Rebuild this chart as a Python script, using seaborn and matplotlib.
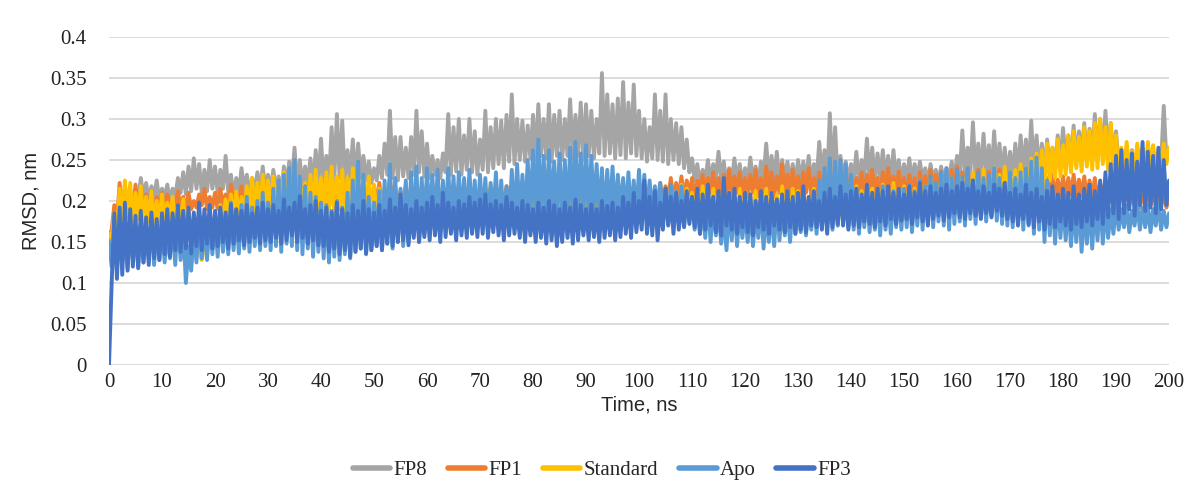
"""
RMSD of the five systems over the 200 ns run
"""
import numpy as np
import pandas as pd
import matplotlib
matplotlib.use("Agg")
import matplotlib.pyplot as plt
import seaborn as sns

# time axis (ns), one sample every 0.5 ns
time_ns = np.arange(0, 200.5, 0.5)

# RMSD, in 0.001 nm; first value is t=0, then one row per 10 ns
fp8 = [150,
       160, 180, 170, 195, 185, 205, 190, 200, 195, 215, 200, 228, 205, 222, 200, 218, 205, 225, 200, 215,
       205, 220, 200, 215, 205, 228, 210, 235, 208, 242, 212, 252, 215, 245, 210, 238, 212, 250, 215, 242,
       210, 238, 215, 255, 210, 232, 205, 228, 210, 240, 212, 232, 208, 228, 212, 235, 210, 242, 215, 232,
       212, 238, 215, 230, 210, 242, 218, 248, 222, 265, 215, 250, 218, 242, 220, 252, 215, 262, 220, 276,
       218, 255, 222, 290, 225, 306, 228, 298, 222, 262, 226, 275, 220, 270, 228, 255, 225, 248, 222, 240,
       225, 255, 228, 270, 232, 310, 228, 278, 225, 278, 230, 265, 228, 278, 232, 310, 235, 285, 230, 270,
       228, 255, 232, 250, 228, 258, 235, 306, 232, 290, 236, 300, 232, 280, 238, 300, 235, 285, 232, 275,
       238, 310, 235, 290, 240, 300, 245, 298, 240, 305, 248, 330, 245, 300, 250, 298, 248, 292, 252, 305,
       250, 318, 255, 300, 252, 318, 248, 305, 255, 310, 250, 300, 255, 324, 252, 305, 255, 320, 250, 318,
       255, 310, 252, 300, 258, 356, 255, 330, 258, 318, 252, 325, 256, 345, 252, 320, 258, 342, 255, 310,
       252, 300, 248, 290, 252, 330, 250, 310, 248, 330, 245, 300, 250, 295, 245, 290, 240, 275, 235, 252,
       225, 245, 220, 238, 225, 250, 222, 245, 228, 260, 225, 248, 220, 240, 225, 252, 222, 245, 220, 240,
       222, 253, 225, 242, 220, 248, 228, 270, 222, 255, 225, 260, 220, 250, 225, 248, 222, 245, 220, 250,
       225, 248, 222, 255, 220, 245, 225, 272, 228, 262, 222, 307, 225, 290, 220, 255, 225, 248, 222, 245,
       225, 260, 222, 250, 228, 276, 225, 265, 222, 258, 228, 262, 225, 255, 222, 262, 225, 250, 222, 245,
       225, 252, 222, 245, 228, 248, 225, 240, 222, 245, 225, 238, 222, 242, 225, 240, 228, 248, 225, 255,
       230, 286, 228, 265, 232, 296, 228, 270, 230, 282, 232, 268, 228, 285, 232, 270, 230, 265, 228, 260,
       232, 270, 230, 280, 235, 275, 232, 298, 235, 280, 232, 270, 235, 275, 238, 265, 240, 280, 245, 289,
       248, 280, 250, 292, 252, 285, 255, 295, 250, 288, 255, 306, 252, 300, 255, 310, 252, 295, 248, 285,
       245, 262, 242, 258, 245, 262, 240, 255, 245, 262, 242, 258, 245, 262, 240, 258, 245, 316, 250, 265]

fp1 = [155,
       165, 195, 175, 222, 185, 218, 190, 212, 182, 220, 188, 215, 185, 208, 190, 212, 186, 205, 190, 210,
       185, 208, 190, 202, 186, 212, 192, 205, 188, 210, 190, 200, 192, 208, 195, 215, 190, 205, 192, 210,
       190, 215, 194, 208, 192, 220, 190, 212, 195, 218, 192, 210, 196, 215, 194, 220, 190, 212, 196, 218,
       194, 215, 190, 220, 196, 212, 192, 218, 195, 210, 190, 215, 196, 222, 194, 212, 198, 218, 192, 215,
       195, 220, 192, 212, 198, 222, 194, 215, 196, 218, 192, 212, 198, 220, 195, 215, 192, 210, 196, 218,
       198, 222, 194, 215, 200, 228, 196, 218, 192, 212, 198, 220, 194, 215, 190, 212, 196, 218, 198, 222,
       194, 215, 198, 222, 192, 212, 196, 218, 194, 215, 198, 220, 192, 212, 196, 218, 198, 215, 194, 212,
       192, 210, 196, 215, 190, 208, 194, 212, 196, 218, 192, 212, 196, 220, 198, 215, 192, 210, 190, 205,
       188, 205, 192, 210, 186, 202, 190, 208, 185, 205, 190, 210, 188, 202, 192, 208, 190, 205, 186, 210,
       190, 212, 186, 205, 190, 210, 185, 202, 190, 208, 188, 205, 192, 210, 190, 208, 194, 212, 192, 210,
       195, 215, 198, 220, 196, 212, 200, 222, 198, 218, 202, 228, 200, 222, 205, 230, 202, 225, 206, 228,
       204, 225, 208, 232, 205, 228, 210, 235, 206, 228, 202, 232, 208, 238, 205, 230, 210, 235, 206, 228,
       205, 232, 210, 238, 206, 228, 202, 242, 208, 235, 205, 230, 210, 245, 206, 232, 208, 238, 204, 230,
       206, 235, 210, 240, 205, 228, 208, 235, 204, 230, 208, 238, 206, 232, 210, 240, 205, 235, 208, 230,
       206, 228, 210, 235, 205, 232, 208, 238, 204, 228, 206, 235, 210, 240, 205, 230, 208, 236, 204, 228,
       205, 232, 208, 228, 204, 235, 210, 230, 206, 238, 208, 232, 210, 236, 206, 228, 210, 238, 212, 242,
       208, 235, 212, 240, 206, 232, 210, 238, 208, 230, 212, 236, 206, 232, 210, 238, 208, 235, 205, 230,
       206, 232, 210, 236, 204, 228, 208, 234, 206, 230, 210, 235, 205, 228, 208, 232, 204, 226, 206, 230,
       205, 228, 208, 232, 204, 226, 206, 230, 202, 225, 205, 228, 200, 222, 204, 226, 200, 220, 198, 218,
       196, 215, 198, 212, 194, 210, 196, 214, 192, 208, 196, 212, 194, 210, 198, 212, 195, 208, 192, 205]

standard = [160,
            155, 185, 165, 215, 175, 225, 180, 222, 172, 210, 178, 218, 170, 205, 175, 212, 168, 200, 172, 208,
            170, 198, 175, 205, 168, 195, 172, 202, 170, 190, 165, 180, 150, 140, 128, 148, 135, 155, 160, 180,
            168, 195, 172, 202, 175, 208, 170, 212, 178, 205, 180, 218, 182, 228, 185, 222, 180, 232, 188, 225,
            185, 230, 182, 220, 188, 235, 180, 225, 185, 218, 182, 228, 188, 222, 180, 232, 185, 238, 188, 228,
            182, 235, 188, 242, 185, 230, 190, 238, 182, 228, 188, 240, 185, 232, 180, 225, 185, 230, 178, 220,
            175, 215, 170, 208, 175, 218, 168, 210, 172, 205, 175, 215, 170, 212, 168, 205, 172, 210, 175, 208,
            170, 212, 175, 205, 178, 215, 172, 208, 176, 218, 170, 210, 178, 205, 175, 212, 180, 208, 176, 215,
            178, 210, 182, 218, 180, 205, 176, 212, 182, 208, 178, 215, 185, 220, 180, 210, 185, 215, 182, 212,
            185, 220, 190, 212, 185, 218, 180, 208, 186, 215, 182, 220, 188, 222, 185, 218, 190, 215, 186, 210,
            180, 205, 175, 210, 178, 200, 172, 208, 176, 198, 170, 205, 175, 200, 168, 195, 172, 205, 175, 208,
            178, 210, 172, 215, 176, 205, 180, 212, 175, 208, 178, 218, 182, 212, 178, 220, 182, 215, 178, 210,
            175, 212, 170, 218, 176, 208, 172, 215, 168, 205, 175, 212, 170, 210, 165, 205, 172, 215, 168, 210,
            165, 208, 170, 212, 162, 205, 168, 215, 160, 210, 166, 208, 170, 218, 164, 210, 168, 215, 165, 212,
            170, 210, 168, 205, 172, 215, 170, 208, 175, 212, 168, 210, 172, 206, 170, 215, 175, 210, 170, 212,
            172, 218, 178, 212, 175, 220, 180, 215, 176, 212, 178, 220, 175, 215, 180, 222, 176, 215, 180, 218,
            176, 220, 180, 215, 175, 225, 182, 218, 178, 228, 180, 220, 185, 230, 180, 225, 186, 228, 182, 222,
            185, 230, 182, 225, 188, 235, 184, 228, 190, 238, 186, 230, 190, 240, 185, 232, 192, 242, 195, 235,
            198, 238, 202, 245, 205, 240, 210, 252, 215, 258, 220, 262, 218, 270, 225, 265, 228, 275, 230, 268,
            232, 280, 235, 285, 240, 278, 236, 290, 242, 285, 238, 295, 240, 300, 245, 290, 238, 295, 235, 280,
            230, 265, 235, 272, 232, 260, 238, 270, 240, 265, 235, 272, 242, 268, 238, 262, 240, 270, 245, 265]

apo = [150,
       120, 165, 115, 172, 125, 158, 118, 175, 128, 162, 120, 170, 125, 160, 130, 178, 122, 168, 128, 172,
       125, 165, 130, 178, 122, 185, 128, 170, 100, 145, 115, 160, 125, 185, 130, 175, 128, 188, 135, 178,
       132, 190, 138, 182, 135, 198, 140, 188, 136, 195, 142, 205, 138, 192, 145, 200, 140, 210, 145, 198,
       140, 215, 145, 225, 138, 232, 148, 240, 145, 250, 140, 230, 135, 218, 142, 210, 132, 205, 138, 198,
       130, 195, 125, 188, 132, 200, 128, 192, 135, 210, 130, 225, 138, 248, 142, 232, 135, 205, 140, 198,
       145, 212, 140, 225, 148, 245, 142, 228, 150, 215, 145, 225, 152, 235, 158, 242, 150, 228, 160, 240,
       165, 232, 170, 238, 162, 225, 168, 240, 172, 230, 165, 235, 175, 228, 168, 238, 172, 225, 170, 232,
       175, 228, 170, 222, 178, 235, 172, 225, 168, 218, 175, 238, 170, 245, 178, 232, 175, 250, 180, 262,
       178, 275, 182, 255, 175, 262, 185, 248, 178, 258, 182, 250, 176, 265, 180, 272, 185, 258, 180, 268,
       178, 255, 185, 245, 180, 240, 175, 238, 182, 242, 178, 232, 185, 228, 180, 235, 178, 225, 182, 238,
       180, 232, 176, 225, 182, 218, 175, 222, 180, 215, 172, 220, 178, 212, 175, 218, 170, 210, 175, 205,
       165, 200, 160, 195, 155, 205, 150, 198, 158, 190, 148, 185, 140, 195, 152, 200, 145, 192, 155, 188,
       150, 198, 145, 190, 155, 195, 142, 188, 150, 192, 145, 200, 152, 195, 158, 190, 150, 198, 160, 192,
       162, 200, 158, 195, 165, 210, 160, 225, 168, 240, 172, 252, 165, 248, 170, 250, 175, 245, 168, 232,
       165, 215, 160, 205, 168, 212, 162, 200, 165, 210, 158, 218, 165, 205, 160, 212, 168, 208, 165, 215,
       168, 220, 162, 212, 170, 225, 165, 218, 172, 230, 168, 222, 175, 235, 170, 240, 165, 228, 172, 238,
       175, 230, 170, 240, 178, 225, 172, 235, 180, 228, 175, 232, 182, 240, 176, 228, 172, 222, 170, 235,
       168, 228, 172, 235, 165, 240, 170, 248, 160, 253, 165, 240, 150, 225, 158, 210, 148, 205, 155, 198,
       152, 200, 145, 195, 150, 205, 138, 192, 148, 200, 142, 198, 152, 205, 148, 195, 155, 190, 160, 198,
       165, 190, 168, 195, 162, 188, 170, 198, 165, 192, 168, 195, 162, 190, 170, 198, 165, 188, 168, 185]

fp3 = [0,
       100, 185, 105, 192, 110, 198, 115, 190, 120, 182, 118, 188, 125, 180, 122, 186, 130, 178, 128, 185,
       135, 190, 132, 185, 140, 195, 138, 188, 142, 192, 136, 186, 145, 198, 140, 190, 148, 195, 142, 188,
       145, 192, 150, 186, 142, 196, 148, 190, 152, 188, 146, 195, 150, 185, 155, 192, 148, 198, 152, 190,
       150, 195, 155, 188, 148, 202, 152, 192, 158, 198, 150, 206, 155, 190, 148, 195, 152, 200, 146, 188,
       145, 192, 138, 186, 142, 198, 135, 190, 140, 185, 132, 195, 138, 188, 142, 200, 136, 190, 140, 186,
       145, 195, 140, 188, 148, 202, 145, 192, 150, 208, 152, 195, 146, 190, 155, 200, 150, 192, 156, 198,
       152, 205, 158, 195, 150, 210, 156, 198, 160, 192, 152, 200, 158, 196, 155, 205, 160, 198, 156, 202,
       160, 208, 155, 196, 162, 200, 158, 195, 152, 205, 158, 198, 160, 192, 155, 200, 150, 195, 158, 190,
       150, 198, 155, 192, 148, 200, 152, 195, 145, 190, 150, 198, 155, 192, 148, 202, 152, 195, 158, 190,
       152, 196, 156, 190, 150, 200, 155, 194, 158, 198, 152, 192, 156, 205, 160, 198, 155, 210, 162, 200,
       165, 225, 160, 205, 158, 212, 152, 198, 165, 215, 170, 205, 160, 210, 165, 200, 168, 212, 172, 205,
       168, 215, 160, 208, 165, 220, 170, 205, 162, 212, 158, 228, 170, 210, 165, 215, 160, 205, 168, 210,
       162, 208, 158, 200, 168, 212, 165, 205, 160, 210, 170, 202, 165, 208, 162, 212, 168, 205, 160, 210,
       165, 218, 162, 205, 170, 212, 168, 200, 165, 210, 160, 215, 168, 205, 172, 218, 170, 208, 165, 212,
       170, 215, 168, 208, 175, 220, 172, 210, 168, 215, 175, 212, 170, 218, 178, 210, 172, 215, 176, 208,
       178, 218, 172, 210, 180, 222, 175, 212, 170, 218, 178, 210, 182, 215, 176, 220, 180, 212, 185, 218,
       180, 222, 178, 215, 185, 225, 182, 212, 178, 218, 185, 210, 180, 220, 188, 215, 182, 222, 178, 210,
       175, 215, 170, 208, 178, 220, 172, 210, 168, 215, 175, 205, 165, 212, 172, 218, 168, 208, 175, 215,
       170, 210, 165, 218, 172, 208, 168, 215, 175, 220, 170, 212, 178, 225, 172, 235, 180, 245, 185, 255,
       178, 262, 185, 250, 190, 258, 182, 248, 195, 272, 188, 260, 192, 255, 185, 265, 190, 250, 195, 225]

series_names = ["FP8", "FP1", "Standard", "Apo", "FP3"]
series_colors = ["#A5A5A5", "#ED7D31", "#FFC000", "#5B9BD5", "#4472C4"]
y_ticks = [0, 0.05, 0.1, 0.15, 0.2, 0.25, 0.3, 0.35, 0.4]
y_labels = ["0", "0.05", "0.1", "0.15", "0.2", "0.25", "0.3", "0.35", "0.4"]
x_ticks = list(range(0, 201, 10))

# long-form table for seaborn
frames = []
for name, vals in zip(series_names, [fp8, fp1, standard, apo, fp3]):
    frames.append(pd.DataFrame({"time": time_ns,
                                "rmsd": np.array(vals) / 1000.0,
                                "system": name}))
df = pd.concat(frames, ignore_index=True)

sns.set_style("white")
plt.rcParams["font.family"] = ["Liberation Serif", "DejaVu Serif"]

fig = plt.figure(figsize=(11.94, 4.97), dpi=100)
ax = fig.add_axes([0.0913, 0.2656, 0.8878, 0.66])

# horizontal grid only, under the traces
for yv in y_ticks:
    ax.axhline(yv, color="#d9d9d9", lw=1.3, zorder=0)

sns.lineplot(data=df, x="time", y="rmsd", hue="system", hue_order=series_names,
             palette=series_colors, sort=False, estimator=None, lw=2.8, ax=ax)

ax.set_xlim(0, 200)
ax.set_ylim(0, 0.4)
ax.set_xticks(x_ticks)
ax.set_xticklabels([str(x) for x in x_ticks])
ax.set_yticks(y_ticks)
ax.set_yticklabels(y_labels)
ax.tick_params(axis="both", length=0, labelsize=15, colors="#222222")
ax.tick_params(axis="y", pad=16)
ax.tick_params(axis="x", pad=6)
for sp in ax.spines.values():
    sp.set_visible(False)

ax.set_xlabel("Time, ns", family=["Liberation Sans"], fontsize=14.5, labelpad=2)
ax.set_ylabel("RMSD, nm", family=["Liberation Sans"], fontsize=14.5, labelpad=7)

# legend under the plot
handles, labels = ax.get_legend_handles_labels()
for h in handles:
    h.set_linewidth(4)
ax.legend(handles, labels, loc="center", bbox_to_anchor=(0.504, 0.054),
          bbox_transform=fig.transFigure, ncol=5, frameon=False, fontsize=15,
          handlelength=1.8, handletextpad=0.15, columnspacing=1.0)

fig.savefig("out.png", dpi=100)
